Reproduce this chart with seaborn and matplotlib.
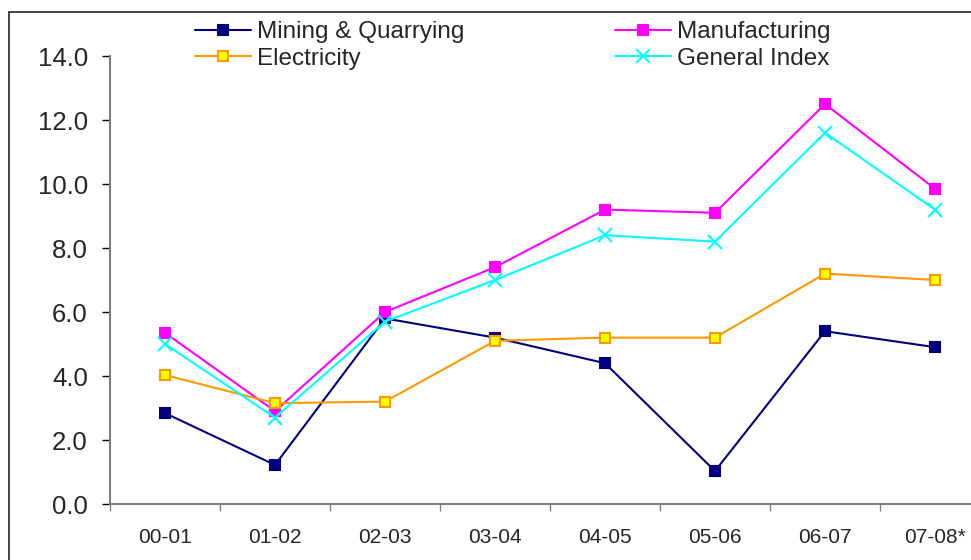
import pandas as pd
import numpy as np
import matplotlib
matplotlib.use('Agg')
import matplotlib.pyplot as plt
import seaborn as sns
from matplotlib.patches import Rectangle

# %%
years = ['00-01', '01-02', '02-03', '03-04', '04-05', '05-06', '06-07', '07-08*']
mining = [2.84, 1.22, 5.8, 5.2, 4.4, 1.03, 5.4, 4.9]
manufacturing = [5.35, 2.9, 6.0, 7.4, 9.2, 9.1, 12.5, 9.85]
electricity = [4.03, 3.15, 3.2, 5.1, 5.2, 5.2, 7.2, 7.0]
general_index = [5.0, 2.7, 5.7, 7.0, 8.4, 8.2, 11.6, 9.2]
y_ticks = [0, 2, 4, 6, 8, 10, 12, 14]

df = pd.DataFrame({'Year': years, 'Mining & Quarrying': mining, 'Manufacturing': manufacturing,
                   'Electricity': electricity, 'General Index': general_index})

# %%
sns.set_style('white')
plt.rcParams['font.family'] = ['Liberation Sans', 'DejaVu Sans']

fig = plt.figure(figsize=(9.71, 5.6), dpi=100)
ax = fig.add_axes([110 / 971, 56 / 560, 1 - 110 / 971, 448 / 560])

# series styles: (column, line colour, marker, face, edge, size)
styles = [
    ('Mining & Quarrying', '#000080', 's', '#000080', '#000080', 7),
    ('Manufacturing', '#FF00FF', 's', '#FF00FF', '#FF00FF', 7),
    ('Electricity', '#FF9900', 's', '#FFFF00', '#FF9900', 7),
    ('General Index', '#00FFFF', 'x', '#00FFFF', '#00FFFF', 10),
]
for col, color, marker, face, edge, size in styles:
    sns.lineplot(data=df, x='Year', y=col, ax=ax, color=color, marker=marker,
                 markerfacecolor=face, markeredgecolor=edge, markersize=size,
                 markeredgewidth=1.5, linewidth=1.5, label=col, sort=False)

ax.set_yticks(y_ticks)
ax.set_yticklabels([f'{v:.1f}' for v in y_ticks])
ax.set_xticks(range(len(years)))
ax.set_xticklabels(years)
ax.set_xticks(np.arange(len(years)) - 0.5, minor=True)
# limits after ticks, set_ticks can widen the view
ax.set_xlim(-0.5, -0.5 + (971 - 110) / 110)
ax.set_ylim(0, 14)
ax.set_xlabel('')
ax.set_ylabel('')

for side in ['top', 'right']:
    ax.spines[side].set_visible(False)
for side in ['left', 'bottom']:
    ax.spines[side].set_color('#808080')
    ax.spines[side].set_linewidth(1.5)

ax.tick_params(axis='y', which='major', length=6, width=1, color='black', labelsize=18.5, pad=10, left=True)
ax.tick_params(axis='x', which='major', length=0, labelsize=15, pad=17, bottom=True)
ax.tick_params(axis='x', which='minor', length=5, width=1, color='#808080', bottom=True)

# legend fills row by row like the original
handles, labels = ax.get_legend_handles_labels()
order = [0, 2, 1, 3]
ax.legend([handles[i] for i in order], [labels[i] for i in order],
          ncol=2, frameon=False, fontsize=17.5, loc='upper left',
          bbox_to_anchor=(195 / 971, 1 - 21 / 560), bbox_transform=fig.transFigure,
          borderaxespad=0, borderpad=0, handlelength=2.3, handletextpad=0.25,
          columnspacing=6.2, labelspacing=0.2)

# outer chart border
fig.patches.append(Rectangle((9.3 / 971, -0.5), 2, 0.5 + 1 - 12.3 / 560, transform=fig.transFigure,
                             fill=False, edgecolor='#222222', linewidth=1.2))

fig.savefig('out.png', dpi=100)
